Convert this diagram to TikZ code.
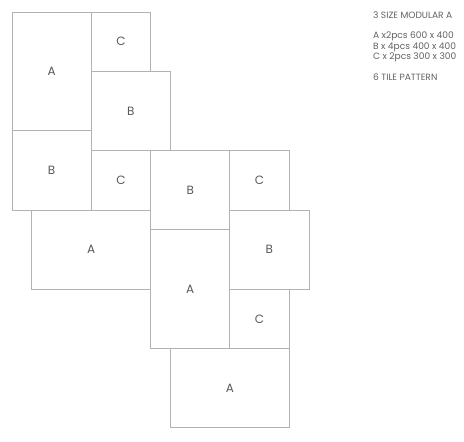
\documentclass[tikz,border=0pt]{standalone}
\usepackage{fontspec}
\setmainfont{Poppins}
\begin{document}
\begin{tikzpicture}[x=19.8pt,y=-19.8pt,
	tile/.style={draw=black!30, line width=0.8pt},
	lbl/.style={text=black!65, font=\fontsize{12}{14}\selectfont},
	note/.style={anchor=west, inner sep=0pt, text=black!62, font=\fontsize{9.1}{11}\selectfont}]
		\useasboundingbox (-0.606,-0.606) rectangle (22.828,21.667);
		% left column
		\draw [tile] (0,0) rectangle node [lbl] (a1) {A} (4,6);
		\draw [tile] (0,6) rectangle node [lbl] (b2) {B} (4,10);
		\draw [tile] (4,0) rectangle node [lbl] (c1) {C} (7,3);
		\draw [tile] (4,3) rectangle node [lbl] (b1) {B} (8,7);
		\draw [tile] (4,7) rectangle node [lbl] (c2) {C} (7,10);
		\draw [tile] (1,10) rectangle node [lbl] (a2) {A} (7,14);
		% right column
		\draw [tile] (7,7) rectangle node [lbl] (b3) {B} (11,11);
		\draw [tile] (7,11) rectangle node [lbl] (a3) {A} (11,17);
		\draw [tile] (11,7) rectangle node [lbl] (c3) {C} (14,10);
		\draw [tile] (11,10) rectangle node [lbl] (b4) {B} (15,14);
		\draw [tile] (11,14) rectangle node [lbl] (c4) {C} (14,17);
		\draw [tile] (8,17) rectangle node [lbl] (a4) {A} (14,21);
		% notes
		\node [note] (title) at (18.23,0.15) {3 SIZE MODULAR A};
		\node [note] (sizea) at (18.23,1.25) {A x2pcs 600 x 400};
		\node [note] (sizeb) at (18.23,1.77) {B x 4pcs 400 x 400};
		\node [note] (sizec) at (18.23,2.29) {C x 2pcs 300 x 300};
		\node [note] (pattern) at (18.23,3.28) {6 TILE PATTERN};
\end{tikzpicture}
\end{document}
